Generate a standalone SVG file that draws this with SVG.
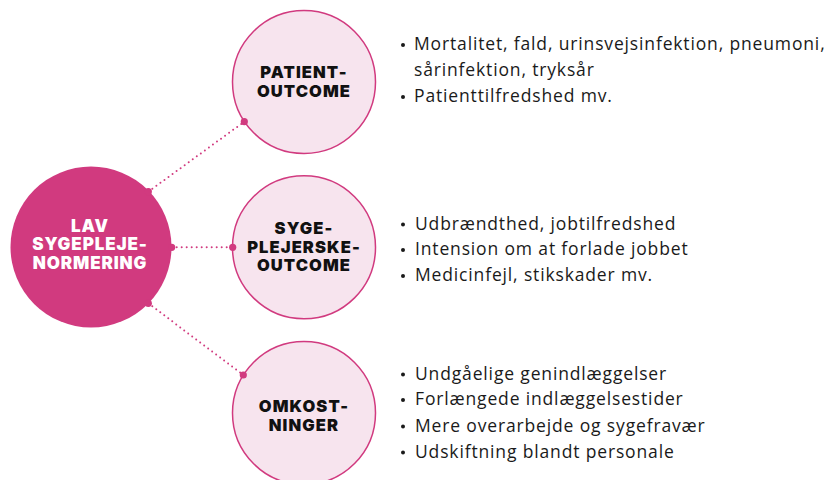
<svg xmlns="http://www.w3.org/2000/svg" width="831" height="480" viewBox="0 0 831 480">
  <style>
    .hub { fill: #D13A7F; }
    .node { fill: #F7E4EE; stroke: #D13A7F; stroke-width: 1.5; }
    .pin { fill: #D13A7F; }
    .link { stroke: #D13A7F; stroke-width: 2; stroke-dasharray: 0 5; stroke-linecap: round; fill: none; }
    .title { font-family: Inter, "Liberation Sans", sans-serif; font-weight: 900; font-size: 16.5px; text-anchor: middle; fill: #111; letter-spacing: 1.1px; }
    .hubtitle { fill: #ffffff; font-size: 17px; letter-spacing: 0.9px; }
    .item { font-family: "Open Sans", "Liberation Sans", sans-serif; font-size: 17.5px; fill: #1a1a1a; letter-spacing: 0.85px; }
    .bullet { fill: #1a1a1a; }
  </style>
  <rect width="831" height="480" fill="#ffffff"/>

  <!-- connectors -->
  <g id="connectors">
    <line class="link" x1="148.3" y1="191.7" x2="244.3" y2="121.7"/>
    <line class="link" x1="171.7" y1="247.3" x2="232.7" y2="247.3"/>
    <line class="link" x1="148.3" y1="303.3" x2="243.3" y2="375"/>
  </g>

  <!-- central node -->
  <g id="hub">
    <circle class="hub" cx="91" cy="247" r="80.5"/>
    <text class="title hubtitle" x="90" y="231.5">LAV</text>
    <text class="title hubtitle" x="90" y="250">SYGEPLEJE-</text>
    <text class="title hubtitle" x="90" y="268.5">NORMERING</text>
    <circle class="pin" cx="148.3" cy="191.7" r="3.6"/>
    <circle class="pin" cx="171.7" cy="247.3" r="3.6"/>
    <circle class="pin" cx="148.3" cy="303.3" r="3.6"/>
  </g>

  <!-- patient outcome -->
  <g id="patient">
    <circle class="node" cx="304" cy="82" r="71.5"/>
    <text class="title" x="304" y="77.5">PATIENT-</text>
    <text class="title" x="304" y="96.5">OUTCOME</text>
    <circle class="pin" cx="244.3" cy="121.7" r="3.6"/>
    <circle class="bullet" cx="403" cy="45" r="2"/>
    <text class="item" x="414" y="50">Mortalitet, fald, urinsvejsinfektion, pneumoni,</text>
    <text class="item" x="414" y="76">sårinfektion, tryksår</text>
    <circle class="bullet" cx="403" cy="97" r="2"/>
    <text class="item" x="414" y="102">Patienttilfredshed mv.</text>
  </g>

  <!-- nurse outcome -->
  <g id="nurse">
    <circle class="node" cx="304" cy="247.3" r="71.5"/>
    <text class="title" x="304" y="234">SYGE-</text>
    <text class="title" x="304" y="252.5">PLEJERSKE-</text>
    <text class="title" x="304" y="271">OUTCOME</text>
    <circle class="pin" cx="232.7" cy="247.3" r="3.6"/>
    <circle class="bullet" cx="403" cy="224.5" r="2"/>
    <text class="item" x="415" y="229.5">Udbrændthed, jobtilfredshed</text>
    <circle class="bullet" cx="403" cy="250" r="2"/>
    <text class="item" x="415" y="255">Intension om at forlade jobbet</text>
    <circle class="bullet" cx="403" cy="276" r="2"/>
    <text class="item" x="415" y="281">Medicinfejl, stikskader mv.</text>
  </g>

  <!-- costs -->
  <g id="costs">
    <circle class="node" cx="304" cy="413" r="71.5"/>
    <text class="title" x="304" y="411.7">OMKOST-</text>
    <text class="title" x="304" y="430.7">NINGER</text>
    <circle class="pin" cx="243.3" cy="375" r="3.6"/>
    <circle class="bullet" cx="403" cy="374.5" r="2"/>
    <text class="item" x="415" y="379.5">Undgåelige genindlæggelser</text>
    <circle class="bullet" cx="403" cy="400" r="2"/>
    <text class="item" x="415" y="405">Forlængede indlæggelsestider</text>
    <circle class="bullet" cx="403" cy="426.5" r="2"/>
    <text class="item" x="415" y="431.5">Mere overarbejde og sygefravær</text>
    <circle class="bullet" cx="403" cy="452.5" r="2"/>
    <text class="item" x="415" y="457.5">Udskiftning blandt personale</text>
  </g>
</svg>
